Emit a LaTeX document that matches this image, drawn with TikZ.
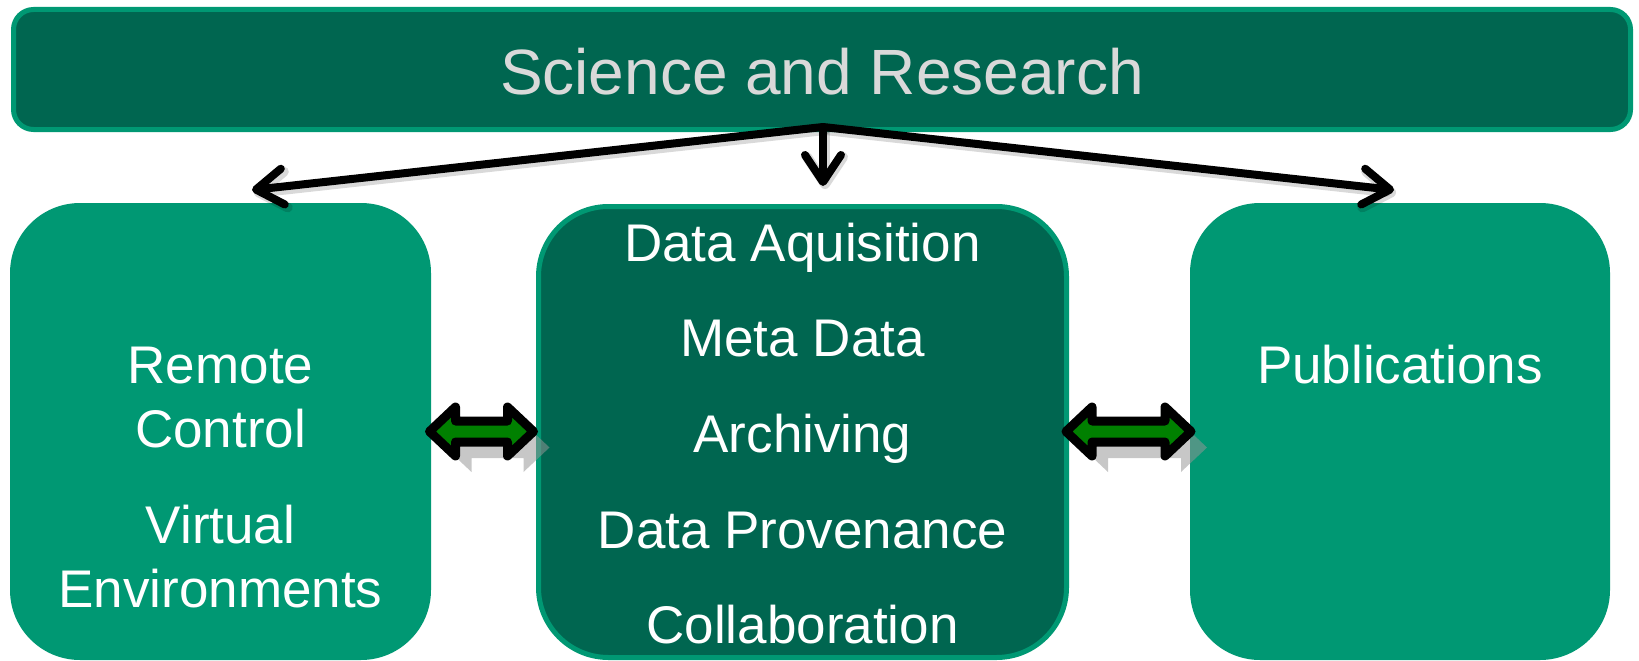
\documentclass[tikz,border=0pt]{standalone}
\usepackage{fontspec}
\setmainfont{Liberation Sans}
\usetikzlibrary{arrows.meta}
\definecolor{darkgreen}{RGB}{0,102,80}
\definecolor{lightgreen}{RGB}{0,152,115}
\definecolor{titlegray}{RGB}{217,217,217}
\definecolor{arrowgreen}{RGB}{0,128,0}
\definecolor{shadowgray}{RGB}{150,150,150}
\begin{document}
\begin{tikzpicture}[x=1pt,y=-1pt,
  topbar/.style={rectangle, inner sep=0, rounded corners=20pt, fill=darkgreen, draw=lightgreen, line width=5pt},
  sidebox/.style={rectangle, inner sep=0, rounded corners=70pt, fill=lightgreen},
  midbox/.style={rectangle, inner sep=0, rounded corners=70pt, fill=darkgreen, draw=lightgreen, line width=5pt},
  titletext/.style={anchor=base, inner sep=0, text=titlegray, font=\fontsize{64}{70}\selectfont},
  boxtext/.style={anchor=base, inner sep=0, text=white, font=\fontsize{53}{60}\selectfont},
  linkarrow/.style={draw=black, line width=8pt, line cap=round, line join=round, -{Straight Barb[length=27pt,width=36pt,round]}},
  linkshadow/.style={draw=black, opacity=0.15, line width=10pt, line cap=round, line join=round, -{Straight Barb[length=27pt,width=36pt,round]}},
  dblarrow/.style={draw=black, fill=arrowgreen, line width=9pt, line join=round},
  dblshadow/.style={fill=shadowgray, opacity=0.53}
]
\useasboundingbox (0,0) rectangle (1639,661);

% boxes
\node[topbar, minimum width=1617pt, minimum height=120pt] (top) at (822,69.5) {};
\node[sidebox, minimum width=421pt, minimum height=457pt] (left) at (220.5,431.5) {};
\node[midbox, minimum width=528pt, minimum height=451pt] (mid) at (802.5,432) {};
\node[sidebox, minimum width=420pt, minimum height=457pt] (right) at (1400,431.5) {};

% texts
\node[titletext] (ttl) at (822,95) {Science and Research};
\node[boxtext] (l1) at (220.5,383) {Remote};
\node[boxtext] (l2) at (220.5,447) {Control};
\node[boxtext] (l3) at (220.5,543) {Virtual};
\node[boxtext] (l4) at (220.5,607) {Environments};
\node[boxtext] (m1) at (802.5,261) {Data Aquisition};
\node[boxtext] (m2) at (802.5,356) {Meta Data};
\node[boxtext] (m3) at (802.5,452) {Archiving};
\node[boxtext] (m4) at (802.5,548) {Data Provenance};
\node[boxtext] (m5) at (802.5,643) {Collaboration};
\node[boxtext] (r1) at (1400,383) {Publications};

% connectors from the top bar
\coordinate (root) at (823,127);
\coordinate (tipL) at (252,190);
\coordinate (tipM) at (823,186);
\coordinate (tipR) at (1394,190);
\draw[linkshadow] ([shift={(2,3)}]root) -- ([shift={(2,3)}]tipL);
\draw[linkshadow] ([shift={(2,3)}]root) -- ([shift={(2,3)}]tipM);
\draw[linkshadow] ([shift={(2,3)}]root) -- ([shift={(2,3)}]tipR);
\draw[linkarrow] (root) -- (tipL);
\draw[linkarrow] (root) -- (tipM);
\draw[linkarrow] (root) -- (tipR);

% double arrows between boxes
\coordinate (da1) at (481.5,431.5);
\coordinate (da2) at (1128.5,431.5);
\fill[dblshadow, shift={(da1)}, shift={(16,16)}]
  (-52,0) -- (-26,-24.5) -- (-26,-10.5) -- (26,-10.5) -- (26,-24.5) -- (52,0)
  -- (26,24.5) -- (26,10.5) -- (-26,10.5) -- (-26,24.5) -- cycle;
\fill[dblshadow, shift={(da2)}, shift={(16,16)}]
  (-62.5,0) -- (-36.5,-24.5) -- (-36.5,-10.5) -- (36.5,-10.5) -- (36.5,-24.5) -- (62.5,0)
  -- (36.5,24.5) -- (36.5,10.5) -- (-36.5,10.5) -- (-36.5,24.5) -- cycle;
\draw[dblarrow, shift={(da1)}]
  (-52,0) -- (-26,-24.5) -- (-26,-10.5) -- (26,-10.5) -- (26,-24.5) -- (52,0)
  -- (26,24.5) -- (26,10.5) -- (-26,10.5) -- (-26,24.5) -- cycle;
\draw[dblarrow, shift={(da2)}]
  (-62.5,0) -- (-36.5,-24.5) -- (-36.5,-10.5) -- (36.5,-10.5) -- (36.5,-24.5) -- (62.5,0)
  -- (36.5,24.5) -- (36.5,10.5) -- (-36.5,10.5) -- (-36.5,24.5) -- cycle;
\end{tikzpicture}
\end{document}
